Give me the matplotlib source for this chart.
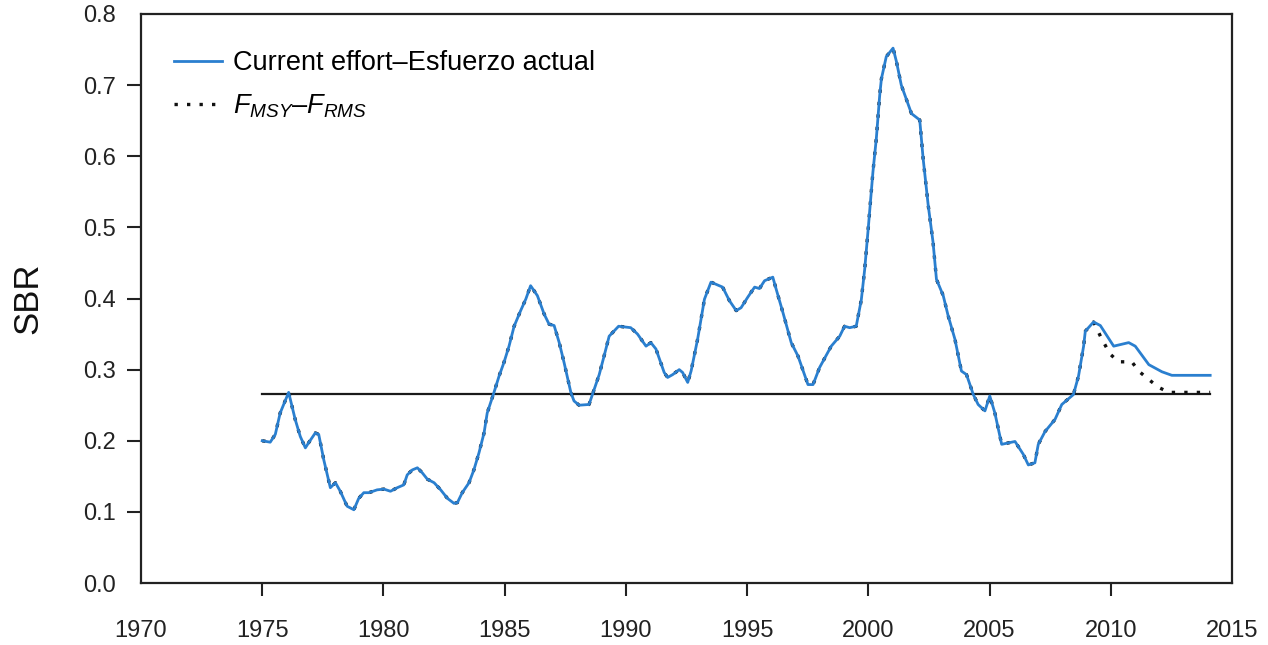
import matplotlib
matplotlib.use("Agg")
import matplotlib.pyplot as plt

plt.rcParams['font.family'] = ['Liberation Sans', 'DejaVu Sans']
plt.rcParams['mathtext.fontset'] = 'custom'
plt.rcParams['mathtext.it'] = 'Liberation Sans:italic'
plt.rcParams['mathtext.rm'] = 'Liberation Sans'

years = [1975.0, 1975.33, 1975.54, 1975.74, 1976.09, 1976.36, 1976.57, 1976.78, 1976.91, 1977.19,
         1977.33, 1977.54, 1977.81, 1978.02, 1978.22, 1978.5, 1978.78, 1978.98, 1979.19, 1979.4,
         1979.74, 1980.02, 1980.29, 1980.57, 1980.84, 1980.98, 1981.19, 1981.4, 1981.6, 1981.81,
         1982.09, 1982.36, 1982.64, 1982.91, 1983.05, 1983.25, 1983.53, 1983.73, 1983.94, 1984.15,
         1984.28, 1984.56, 1984.77, 1984.97, 1985.18, 1985.39, 1985.66, 1985.87, 1986.07, 1986.35,
         1986.63, 1986.83, 1987.04, 1987.25, 1987.45, 1987.73, 1987.86, 1988.07, 1988.48, 1988.69,
         1988.9, 1989.1, 1989.31, 1989.7, 1990.2, 1990.48, 1990.83, 1991.03, 1991.24, 1991.58,
         1991.72, 1991.93, 1992.2, 1992.34, 1992.55, 1992.69, 1992.96, 1993.24, 1993.51, 1993.99,
         1994.27, 1994.55, 1994.75, 1995.03, 1995.31, 1995.51, 1995.72, 1996.06, 1996.2, 1996.48,
         1996.82, 1997.1, 1997.51, 1997.72, 1997.99, 1998.47, 1998.82, 1999.02, 1999.23, 1999.5,
         1999.71, 1999.85, 2000.0, 2000.19, 2000.33, 2000.47, 2000.54, 2000.74, 2001.02, 2001.16,
         2001.36, 2001.78, 2002.12, 2002.26, 2002.47, 2002.67, 2002.81, 2003.09, 2003.29, 2003.57,
         2003.84, 2004.05, 2004.33, 2004.53, 2004.81, 2005.01, 2005.22, 2005.5, 2006.05, 2006.39,
         2006.6, 2006.87, 2007.01, 2007.29, 2007.7, 2007.98, 2008.46, 2008.67, 2008.88, 2008.95,
         2009.29]
sbr_common = [0.200, 0.198, 0.209, 0.239, 0.268, 0.230, 0.206, 0.190, 0.197, 0.211,
              0.209, 0.173, 0.134, 0.141, 0.129, 0.108, 0.103, 0.119, 0.127, 0.127,
              0.131, 0.132, 0.129, 0.134, 0.138, 0.152, 0.159, 0.162, 0.155, 0.146,
              0.141, 0.131, 0.119, 0.112, 0.113, 0.127, 0.141, 0.159, 0.183, 0.211,
              0.239, 0.268, 0.291, 0.310, 0.333, 0.361, 0.383, 0.399, 0.418, 0.404,
              0.378, 0.364, 0.362, 0.338, 0.310, 0.268, 0.256, 0.250, 0.251, 0.272,
              0.293, 0.319, 0.347, 0.361, 0.359, 0.350, 0.333, 0.338, 0.329, 0.296,
              0.289, 0.293, 0.300, 0.296, 0.282, 0.298, 0.343, 0.399, 0.423, 0.416,
              0.397, 0.383, 0.387, 0.402, 0.416, 0.414, 0.425, 0.430, 0.413, 0.380,
              0.338, 0.319, 0.279, 0.279, 0.303, 0.333, 0.347, 0.361, 0.359, 0.361,
              0.398, 0.441, 0.500, 0.578, 0.625, 0.686, 0.709, 0.740, 0.752, 0.733,
              0.700, 0.660, 0.651, 0.597, 0.531, 0.479, 0.427, 0.404, 0.376, 0.343,
              0.298, 0.293, 0.265, 0.251, 0.242, 0.263, 0.239, 0.195, 0.199, 0.181,
              0.166, 0.169, 0.195, 0.213, 0.230, 0.251, 0.265, 0.291, 0.333, 0.354,
              0.367]

# projections after 2009
current_tail_years = [2009.57, 2010.12, 2010.74, 2011.01, 2011.57, 2012.11, 2012.52, 2014.1]
current_tail_sbr = [0.362, 0.333, 0.338, 0.333, 0.307, 0.297, 0.292, 0.292]
fmsy_tail_years = [2009.63, 2009.97, 2010.32, 2010.87, 2011.15, 2011.57, 2011.98, 2012.39, 2014.1]
fmsy_tail_sbr = [0.343, 0.322, 0.311, 0.311, 0.298, 0.286, 0.275, 0.268, 0.268]

sbr_msy = 0.266
ref_start, ref_end = 1975.0, 2014.1

x_ticks = [1970, 1975, 1980, 1985, 1990, 1995, 2000, 2005, 2010, 2015]
y_ticks = [0.0, 0.1, 0.2, 0.3, 0.4, 0.5, 0.6, 0.7, 0.8]

label_current = 'Current effort\u2013Esfuerzo actual'
label_fmsy = r'$F_{MSY}$' + '\u2013' + r'$F_{RMS}$'

fig = plt.figure(figsize=(12.68, 6.45), dpi=100)
ax = fig.add_axes([0.1112, 0.0961, 0.8604, 0.8822])

ax.plot([ref_start, ref_end], [sbr_msy, sbr_msy], color='#1a1a1a', lw=1.6, zorder=2)
ax.plot(years + current_tail_years, sbr_common + current_tail_sbr, color='#2a7fcf',
        lw=2.0, zorder=4, label=label_current)
ax.plot(years + fmsy_tail_years, sbr_common + fmsy_tail_sbr, color='#111111',
        lw=2.4, linestyle=(0, (1, 2.75)), zorder=3, label=label_fmsy)

ax.set_xlim(1970, 2015)
ax.set_ylim(0.0, 0.8)
ax.set_xticks(x_ticks)
ax.set_xticklabels([str(t) for t in x_ticks])
ax.set_yticks(y_ticks)
ax.set_yticklabels(['%.1f' % t for t in y_ticks])
ax.tick_params(axis='x', direction='out', length=9.5, width=1.5, colors='#222222',
               labelsize=17, labelcolor='#222222', pad=17)
ax.tick_params(axis='y', direction='out', length=10, width=1.5, colors='#222222',
               labelsize=17, labelcolor='#222222', pad=8)
for t in (ax.xaxis.get_major_ticks()[0], ax.xaxis.get_major_ticks()[-1],
          ax.yaxis.get_major_ticks()[0], ax.yaxis.get_major_ticks()[-1]):
    t.tick1line.set_visible(False)
for s in ax.spines.values():
    s.set_linewidth(1.6)
    s.set_color('#222222')

ax.set_ylabel('SBR', fontsize=25, labelpad=28, color='#111111')

leg = ax.legend(loc='upper left', bbox_to_anchor=(0.013, 0.97), frameon=False,
                fontsize=19.5, handlelength=1.75, handletextpad=0.42, labelspacing=0.6,
                borderaxespad=0.3)

fig.savefig('out.png', dpi=100)
